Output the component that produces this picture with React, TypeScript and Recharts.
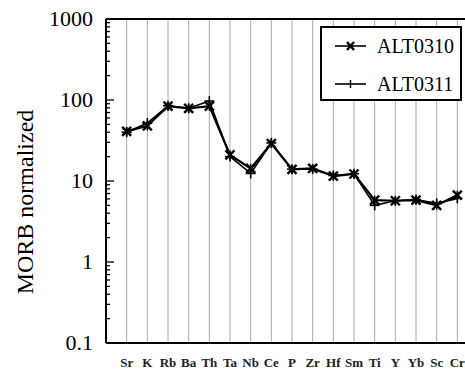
import React from 'react';
import { LineChart, Line, XAxis, YAxis, CartesianGrid, ReferenceLine, Legend } from 'recharts';

const categories = ['Sr', 'K', 'Rb', 'Ba', 'Th', 'Ta', 'Nb', 'Ce', 'P', 'Zr', 'Hf', 'Sm', 'Ti', 'Y', 'Yb', 'Sc', 'Cr'];
const alt0310 = [41, 48, 84, 79, 84, 21, 14.3, 29, 13.9, 14.3, 11.5, 12.2, 5.8, 5.7, 5.8, 5.0, 6.7];
const alt0311 = [40, 52, 85, 79, 97, 20, 12.4, 29.5, 14, 14, 11.7, 12.3, 5.0, 5.7, 5.9, 5.3, 6.1];
const majorTicks = [0.1, 1, 10, 100, 1000];
const seriesNames = ['ALT0310', 'ALT0311'];

const minorTicks: number[] = [];
[0.1, 1, 10, 100].forEach((d) => {
  for (let m = 1; m <= 9; m++) minorTicks.push(+(d * m).toPrecision(3));
});
minorTicks.push(1000);

const data = categories.map((c, i) => ({ idx: i + 1, el: c, a: alt0310[i], b: alt0311[i] }));

const FONT = '"Liberation Serif", "Times New Roman", serif';
const TM = 13;

const YTick = (props: any) => {
  const { x, y, payload } = props;
  const v = payload.value;
  const isMajor = majorTicks.some((m) => Math.abs(m - v) / m < 1e-6);
  const ax = x + TM;
  return (
    <g>
      <line x1={ax} x2={ax + (isMajor ? 8 : 4)} y1={y} y2={y} stroke="#000" strokeWidth={1.3} />
      {isMajor && (
        <text x={x} y={y} dy={7} textAnchor="end" fontFamily={FONT} fontSize={22} fill="#000">
          {v}
        </text>
      )}
    </g>
  );
};

const XTick = (props: any) => {
  const { x, y, payload } = props;
  return (
    <text x={x} y={y} dy={12} textAnchor="middle" fontFamily={FONT} fontSize={13} fontWeight="bold" fill="#222">
      {categories[payload.value - 1]}
    </text>
  );
};

const CrossDot = (props: any) => {
  const { cx, cy } = props;
  if (cx == null || cy == null) return null;
  const s = 4.5;
  return (
    <g>
      <line x1={cx - s} y1={cy - s} x2={cx + s} y2={cy + s} stroke="#000" strokeWidth={2.4} />
      <line x1={cx - s} y1={cy + s} x2={cx + s} y2={cy - s} stroke="#000" strokeWidth={2.4} />
      <line x1={cx} y1={cy - s} x2={cx} y2={cy + s} stroke="#000" strokeWidth={1.5} />
    </g>
  );
};

const PlusDot = (props: any) => {
  const { cx, cy } = props;
  if (cx == null || cy == null) return null;
  const s = 5;
  return (
    <g>
      <line x1={cx - s} y1={cy} x2={cx + s} y2={cy} stroke="#000" strokeWidth={1.6} />
      <line x1={cx} y1={cy - s} x2={cx} y2={cy + s} stroke="#000" strokeWidth={1.6} />
    </g>
  );
};

const LegendBox = () => (
  <div
    style={{
      width: 138,
      height: 71,
      border: '2px solid #000',
      background: '#fff',
      fontFamily: FONT,
      fontSize: 20,
      position: 'relative',
    }}
  >
    {seriesNames.map((n, i) => (
      <div key={n} style={{ position: 'absolute', left: 12, top: 6 + i * 38, height: 24, display: 'flex', alignItems: 'center' }}>
        <svg width={34} height={14} style={{ marginRight: 9 }}>
          <line x1={1} x2={32} y1={7} y2={7} stroke="#000" strokeWidth={1.6} />
          {i === 0 ? (
            <g>
              <line x1={13} y1={3} x2={20} y2={11} stroke="#000" strokeWidth={2.4} />
              <line x1={13} y1={11} x2={20} y2={3} stroke="#000" strokeWidth={2.4} />
            </g>
          ) : (
            <line x1={16.5} y1={3} x2={16.5} y2={11} stroke="#000" strokeWidth={1.4} />
          )}
        </svg>
        <span>{n}</span>
      </div>
    ))}
  </div>
);

const YLabel = (props: any) => {
  const vb = props.viewBox || { x: 0, y: 0, width: 0, height: 0 };
  const cx = 25;
  const cy = vb.y + vb.height / 2 + 21;
  return (
    <text x={cx} y={cy} transform={`rotate(-90 ${cx} ${cy})`} textAnchor="middle" dominantBaseline="central" fontFamily={FONT} fontSize={24} fill="#000">
      MORB normalized
    </text>
  );
};

export default function App() {
  return (
    <div style={{ position: 'absolute', left: 0, top: 0, width: 465, height: 369, overflow: 'hidden' }}>
      <LineChart width={488} height={369} data={data} margin={{ top: 19, right: 10, left: 8, bottom: 0 }}>
        <CartesianGrid vertical={true} horizontal={false} stroke="#a8a8a8" strokeWidth={1} />
        <XAxis
          dataKey="idx"
          type="number"
          domain={[0, 18]}
          ticks={categories.map((_, i) => i + 1)}
          interval={0}
          height={26}
          tickSize={0}
          tickMargin={12}
          tick={<XTick />}
          axisLine={{ stroke: '#000', strokeWidth: 2 }}
          tickLine={false}
        />
        <YAxis
          scale="log"
          domain={[0.1, 1000]}
          allowDataOverflow
          ticks={minorTicks}
          interval={0}
          width={98}
          tickSize={0}
          tickMargin={TM}
          tick={<YTick />}
          tickLine={false}
          axisLine={{ stroke: '#000', strokeWidth: 2 }}
          label={<YLabel />}
        />
        <ReferenceLine y={1000} stroke="#000" strokeWidth={2} />
        <Legend
          verticalAlign="middle"
          align="center"
          layout="horizontal"
          wrapperStyle={{ position: 'absolute', left: 320, top: 26, width: 142, height: 75 }}
          content={() => <LegendBox />}
        />
        <Line dataKey="a" name="ALT0310" stroke="#000" strokeWidth={2.2} dot={<CrossDot />} isAnimationActive={false} />
        <Line dataKey="b" name="ALT0311" stroke="#000" strokeWidth={1.6} dot={<PlusDot />} isAnimationActive={false} />
      </LineChart>
    </div>
  );
}
